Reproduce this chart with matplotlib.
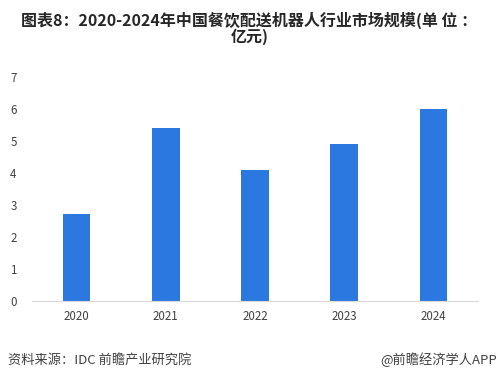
import matplotlib.pyplot as plt

plt.rcParams['font.family'] = ['Noto Sans CJK SC', 'DejaVu Sans']

years = ['2020', '2021', '2022', '2023', '2024']
market_size = [2.7, 5.4, 4.1, 4.9, 6.0]
yticks = [0, 1, 2, 3, 4, 5, 6, 7]

fig = plt.figure(figsize=(4.99, 3.79), dpi=100)
ax = fig.add_axes([0.064, 0.207, 0.894, 0.590])

ax.bar(years, market_size, width=0.31, color='#2a78e0')
ax.set_ylim(0, 7)
ax.set_xlim(-0.5, 4.5)
ax.set_yticks(yticks)

for side in ['top', 'right', 'left']:
    ax.spines[side].set_visible(False)
ax.spines['bottom'].set_color('#d9d9d9')
ax.tick_params(axis='both', length=0, labelsize=8.3, colors='#404040')
ax.tick_params(axis='y', pad=11)
ax.tick_params(axis='x', pad=7)

fig.text(0.5, 0.925, '图表8：2020-2024年中国餐饮配送机器人行业市场规模(单 位 ：\n亿元)',
         ha='center', va='center', fontsize=11.5, fontweight='bold', color='#262626',
         linespacing=0.95)
fig.text(0.016, 0.05, '资料来源：IDC 前瞻产业研究院', ha='left', va='center',
         fontsize=9.5, color='#404040')
fig.text(0.996, 0.05, '@前瞻经济学人APP', ha='right', va='center',
         fontsize=9.5, color='#404040')

fig.savefig('out.png', dpi=100)
